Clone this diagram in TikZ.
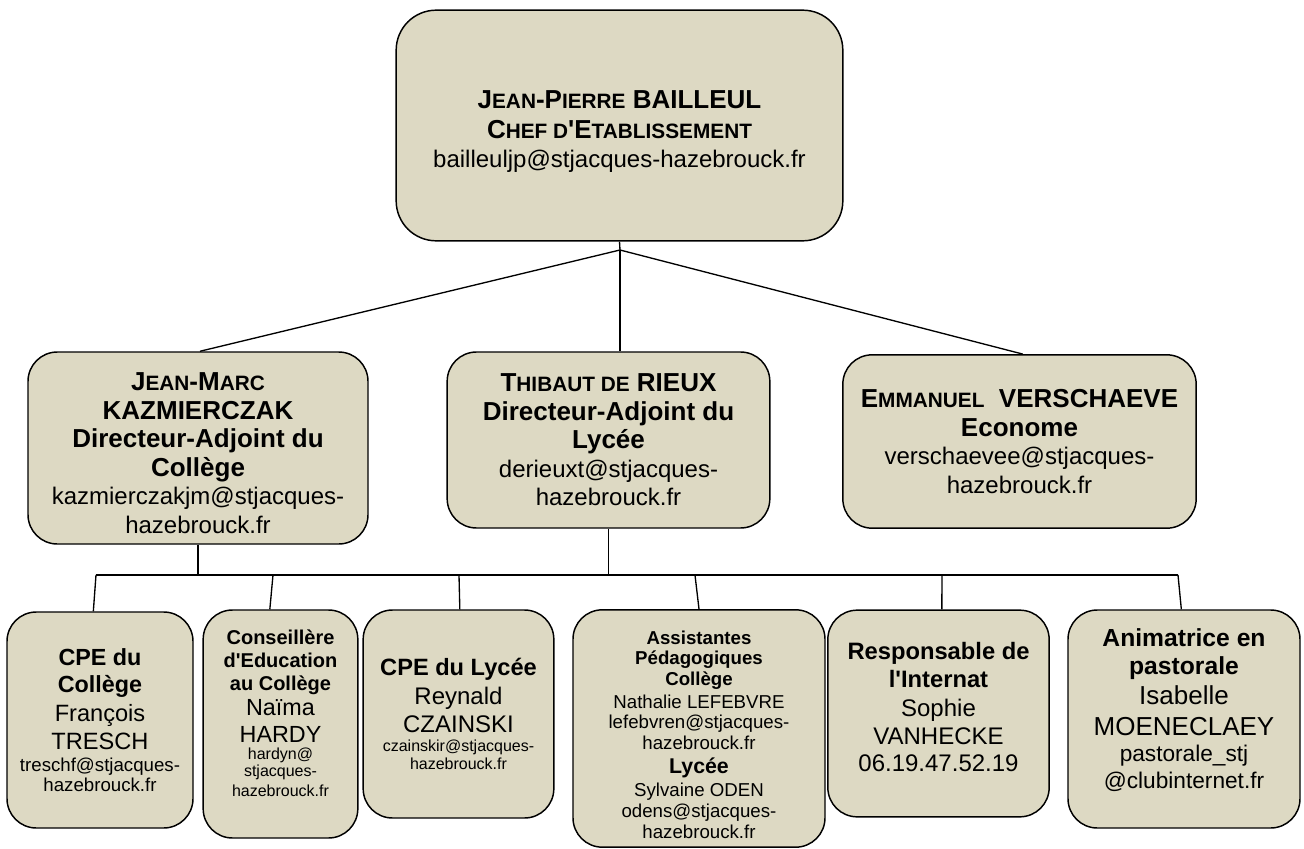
\documentclass[tikz,border=0pt]{standalone}
\usepackage{fontspec}
\setmainfont{Liberation Sans}[Ligatures=TeXOff]
\definecolor{boxfill}{HTML}{DDD9C3}
\makeatletter
\newcommand{\smc}[1]{{\fontsize{\strip@pt\dimexpr0.8\dimexpr\f@size pt\relax\relax}{0pt}\selectfont #1}}
\makeatother
\newcommand{\orgline}[3]{{\fontsize{#1}{#2}\selectfont #3\par}}
% #1 raise, #2 width, #3 lines
\newcommand{\orgtext}[3]{\raisebox{#1}[\height][\depth]{\parbox{#2}{\centering #3}}}

\begin{document}
\begin{tikzpicture}[x=0.75pt,y=-0.75pt]
\tikzstyle{orgbox}=[draw=black, line width=1.1pt, fill=boxfill, rounded corners=22pt, inner sep=0pt]
\tikzstyle{link}=[black, line width=1pt]
\useasboundingbox (0,0) rectangle (1304,849);
% chef
\node [orgbox, rounded corners=30pt, minimum width=335pt, minimum height=173pt] (chef) at (619.5,125.5) {\orgtext{-4.5pt}{320pt}{
\orgline{19.5}{22}{\bfseries J\smc{EAN}-P\smc{IERRE} BAILLEUL}
\orgline{19.5}{22.5}{\bfseries C\smc{HEF D}'E\smc{TABLISSEMENT}}
\orgline{18}{22}{bailleuljp@stjacques-hazebrouck.fr}}};
% adjoints
\node [orgbox, minimum width=255pt, minimum height=144pt] (college) at (198,448) {\orgtext{-3.75pt}{245pt}{
\orgline{19.5}{21.4}{\bfseries J\smc{EAN}-M\smc{ARC}}
\orgline{19.5}{21.4}{\bfseries KAZMIERCZAK}
\orgline{19.5}{21.4}{\bfseries Directeur-Adjoint du}
\orgline{19.5}{21.4}{\bfseries Collège}
\orgline{18}{21.4}{kazmierczakjm@stjacques-}
\orgline{18}{21.4}{hazebrouck.fr}}};
\node [orgbox, minimum width=242pt, minimum height=132pt] (lycee) at (608.5,440) {\orgtext{0pt}{235pt}{
\orgline{19.5}{21.4}{\bfseries T\smc{HIBAUT DE} RIEUX}
\orgline{19.5}{21.4}{\bfseries Directeur-Adjoint du}
\orgline{19.5}{21.4}{\bfseries Lycée}
\orgline{18}{21.4}{derieuxt@stjacques-}
\orgline{18}{21.4}{hazebrouck.fr}}};
\node [orgbox, minimum width=265pt, minimum height=130pt] (econome) at (1019.5,441.5) {\orgtext{0pt}{255pt}{
\orgline{19.5}{21.4}{\bfseries E\smc{MMANUEL}\ \ VERSCHAEVE}
\orgline{19.5}{21.4}{\bfseries Econome}
\orgline{18}{21.4}{verschaevee@stjacques-}
\orgline{18}{21.4}{hazebrouck.fr}}};
% services
\node [orgbox, minimum width=139.5pt, minimum height=162pt] (cpec) at (100,720) {\orgtext{0pt}{132pt}{
\orgline{17.5}{20.5}{\bfseries CPE du}
\orgline{17.5}{20.5}{\bfseries Collège}
\orgline{17.7}{21.5}{François}
\orgline{17.7}{21}{TRESCH}
\orgline{14}{16.5}{treschf@stjacques-}
\orgline{14}{15}{hazebrouck.fr}}};
\node [orgbox, minimum width=116pt, minimum height=171pt] (conseil) at (280.5,724) {\orgtext{8.25pt}{110pt}{
\orgline{15}{17.5}{\bfseries Conseillère}
\orgline{15}{17.5}{\bfseries d'Education}
\orgline{15}{17}{\bfseries au Collège}
\orgline{17.5}{19}{Naïma}
\orgline{17.5}{20}{HARDY}
\orgline{12}{13}{hardyn@}
\orgline{12}{13}{stjacques-}
\orgline{12}{14.5}{hazebrouck.fr}}};
\node [orgbox, minimum width=143pt, minimum height=156pt] (cpel) at (458.5,714) {\orgtext{0pt}{136pt}{
\orgline{17.7}{21}{\bfseries CPE du Lycée}
\orgline{18}{21.75}{Reynald}
\orgline{18}{21}{CZAINSKI}
\orgline{12}{14.25}{czainskir@stjacques-}
\orgline{12}{13.5}{hazebrouck.fr}}};
\node [orgbox, minimum width=189pt, minimum height=178pt] (assist) at (699,728.5) {\orgtext{-4.5pt}{180pt}{
\orgline{14}{15.5}{\bfseries Assistantes}
\orgline{14}{15.5}{\bfseries Pédagogiques}
\orgline{14}{15.5}{\bfseries Collège}
\orgline{14}{17}{Nathalie LEFEBVRE}
\orgline{14}{15.5}{lefebvren@stjacques-}
\orgline{14}{15.5}{hazebrouck.fr}
\orgline{16}{18}{\bfseries Lycée}
\orgline{14}{17}{Sylvaine ODEN}
\orgline{14}{16}{odens@stjacques-}
\orgline{14}{15.5}{hazebrouck.fr}}};
\node [orgbox, minimum width=166pt, minimum height=155pt] (internat) at (938.5,713.5) {\orgtext{4.9pt}{158pt}{
\orgline{17.8}{21}{\bfseries Responsable de}
\orgline{17.8}{21}{\bfseries l'Internat}
\orgline{18}{22}{Sophie}
\orgline{18}{21}{VANHECKE}
\orgline{18}{20}{06.19.47.52.19}}};
\node [orgbox, minimum width=174pt, minimum height=163.5pt] (pasto) at (1184,719) {\orgtext{6.75pt}{166pt}{
\orgline{18.5}{21}{\bfseries Animatrice en}
\orgline{18.5}{21}{\bfseries pastorale}
\orgline{19.5}{22.5}{Isabelle}
\orgline{19.5}{23}{MOENECLAEY}
\orgline{17}{20}{pastorale\_stj}
\orgline{17}{20}{@clubinternet.fr}}};
% liens
\coordinate (j) at (620,250);
\coordinate (b0) at (96,575);
\coordinate (b1) at (273,575);
\coordinate (b2) at (459,575);
\coordinate (b3) at (695,575);
\coordinate (b4) at (942,575);
\coordinate (b5) at (1178,575);
\draw [link] (chef.south) -- (j);
\draw [link] (j) -- ([xshift=1.5pt]college.north);
\draw [link] (j) -- (lycee.north -| j);
\draw [link] (j) -- ([xshift=2.5pt]econome.north);
\draw [link] (college.south) -- (college.south |- b0);
\draw [link] (lycee.south) -- (lycee.south |- b0);
\draw [link] (b0) -- (b5);
\draw [link] (b0) -- ([xshift=-5pt]cpec.north);
\draw [link] (b1) -- ([xshift=-8pt]conseil.north);
\draw [link] (b2) -- ([xshift=1pt]cpel.north);
\draw [link] (b3) -- (assist.north);
\draw [link] (b4) -- ([xshift=2.5pt]internat.north);
\draw [link] (b5) -- ([xshift=-2pt]pasto.north);
\end{tikzpicture}
\end{document}
